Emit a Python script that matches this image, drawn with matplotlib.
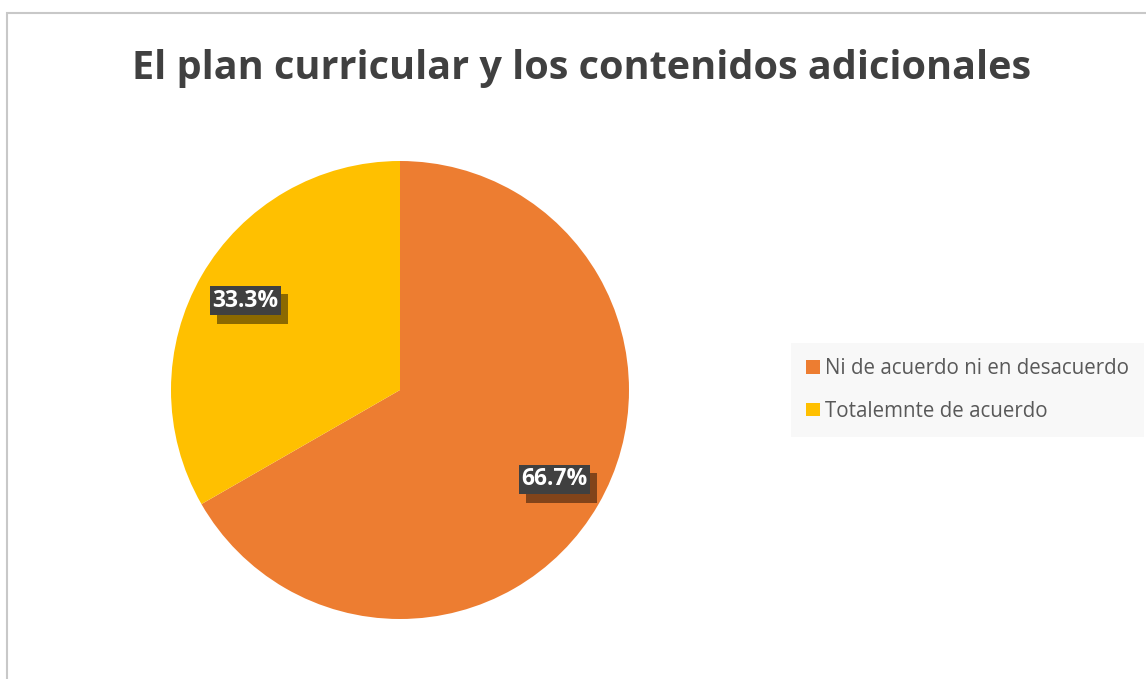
import matplotlib.pyplot as plt
from matplotlib import patheffects
from matplotlib.patches import Rectangle

categorias = ['Ni de acuerdo ni en desacuerdo', 'Totalemnte de acuerdo']
porcentajes = [66.7, 33.3]
colores = ['#ED7D31', '#FFC000']
titulo = 'El plan curricular y los contenidos adicionales'

W, H = 1146, 679
fig = plt.figure(figsize=(W / 100, H / 100), dpi=100)
fig.patch.set_facecolor('white')

# marco del gráfico (solo se ven los bordes superior e izquierdo)
fig.add_artist(Rectangle((7 / W, -0.1), 1.0, 1.1 - 13 / H, transform=fig.transFigure,
                         fill=False, edgecolor='#C8C8C8', linewidth=1.5))

fig.text(582 / W, 1 - 68 / H, titulo, ha='center', va='center',
         fontsize=28.5, fontweight='bold', color='#404040', family='Open Sans')

# centro (400, 390), radio 229 px
cx, cy, r = 400, 390, 229
ax = fig.add_axes([(cx - r) / W, 1 - (cy + r) / H, 2 * r / W, 2 * r / H])
wedges, texts, autotexts = ax.pie(porcentajes, colors=colores, startangle=90,
                                  counterclock=False, autopct='%1.1f%%',
                                  pctdistance=0.78, radius=1)
ax.set_xlim(-1, 1)
ax.set_ylim(-1, 1)

for t in autotexts:
    t.set_color('white')
    t.set_fontsize(16.5)
    t.set_fontweight('bold')
    t.set_family('Open Sans')
    t.set_bbox(dict(boxstyle='square,pad=0.12', facecolor='#404040', edgecolor='none'))
    t.get_bbox_patch().set_path_effects([
        patheffects.withSimplePatchShadow(offset=(5, -6), shadow_rgbFace='black', alpha=0.45),
        patheffects.Normal()])

leg = fig.legend(wedges, categorias, loc='center left',
                 bbox_to_anchor=(791 / W, 1 - 390 / H), frameon=True,
                 fancybox=False, facecolor='#F8F8F8', edgecolor='none',
                 framealpha=1, handlelength=0.65, handleheight=0.65,
                 handletextpad=0.25, labelspacing=1.05, borderpad=0.75,
                 borderaxespad=0,
                 prop={'family': 'Open Sans', 'size': 14.8})
for txt in leg.get_texts():
    txt.set_color('#595959')

fig.savefig('out.png', dpi=100)
